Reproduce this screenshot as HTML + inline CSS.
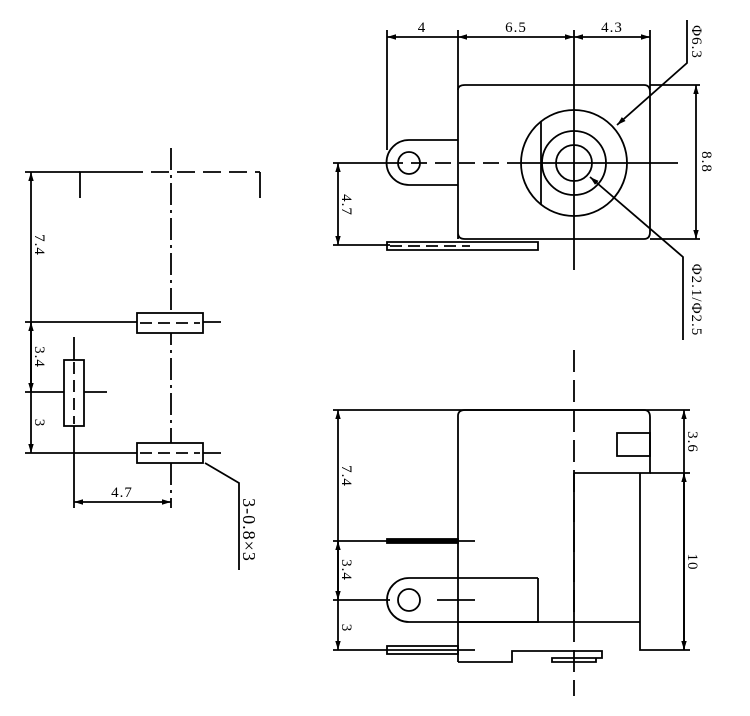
<!DOCTYPE html>
<html><head><meta charset="utf-8"><style>body{margin:0;background:#fff}svg{display:block}</style></head><body>
<svg width="750" height="716" viewBox="0 0 750 716" xmlns="http://www.w3.org/2000/svg" font-family="Liberation Serif, serif" font-size="15" letter-spacing="1" fill="none" stroke="#000" stroke-width="1.8">
<defs><marker id="a" viewBox="0 0 10 10" refX="10" refY="5" markerWidth="5" markerHeight="5" orient="auto-start-reverse"><path d="M0,2 L10,5 L0,8z" fill="#000" stroke="none"/></marker></defs>
<!-- LEFT VIEW -->
<line x1="25" y1="172" x2="80" y2="172"/>
<path d="M80,198 V172 H125"/><path d="M125,172 H260" stroke-dasharray="18,8"/><path d="M260,172 V198"/>
<line x1="171" y1="148" x2="171" y2="508" stroke-dasharray="22,5,3,5"/>
<line x1="31" y1="172" x2="31" y2="453" marker-start="url(#a)" marker-end="url(#a)"/>
<line x1="31" y1="322" x2="31" y2="392" marker-start="url(#a)" marker-end="url(#a)"/>
<line x1="25" y1="322" x2="221" y2="322"/><line x1="25" y1="392" x2="107" y2="392"/><line x1="25" y1="453" x2="221" y2="453"/>
<rect x="137" y="313" width="66" height="20" fill="#fff"/><line x1="140" y1="323" x2="200" y2="323" stroke-dasharray="12,6"/>
<rect x="137" y="443" width="66" height="20" fill="#fff"/><line x1="140" y1="453" x2="200" y2="453" stroke-dasharray="12,6"/>
<line x1="74" y1="337" x2="74" y2="508"/>
<rect x="64" y="360" width="20" height="66" fill="#fff"/><line x1="74" y1="362" x2="74" y2="424" stroke-dasharray="12,6"/>
<line x1="74" y1="502" x2="171" y2="502" marker-start="url(#a)" marker-end="url(#a)"/>
<path d="M205,463 L239,483 V570"/>
<g fill="#000" stroke="none">
<text x="122" y="497" text-anchor="middle">4.7</text>
<text transform="translate(35,245) rotate(90)" text-anchor="middle">7.4</text>
<text transform="translate(35,357) rotate(90)" text-anchor="middle">3.4</text>
<text transform="translate(35,423) rotate(90)" text-anchor="middle">3</text>
<text transform="translate(243,530) rotate(90)" text-anchor="middle" font-size="18">3-0.8×3</text>
</g>
<!-- TOP VIEW -->
<line x1="387" y1="30" x2="387" y2="150"/><line x1="458" y1="30" x2="458" y2="90"/><line x1="650" y1="30" x2="650" y2="90"/>
<line x1="574" y1="30" x2="574" y2="270"/>
<line x1="458" y1="37" x2="387" y2="37" marker-end="url(#a)"/>
<line x1="458" y1="37" x2="574" y2="37" marker-start="url(#a)" marker-end="url(#a)"/>
<line x1="574" y1="37" x2="650" y2="37" marker-start="url(#a)" marker-end="url(#a)"/>
<path d="M458,239 V90 Q458,85 465,85 H644 Q650,85 650,92 V232 Q650,239 644,239 H465 Q458,239 458,233"/>
<line x1="650" y1="85" x2="700" y2="85"/><line x1="650" y1="239" x2="700" y2="239"/>
<line x1="696" y1="85" x2="696" y2="239" marker-start="url(#a)" marker-end="url(#a)"/>
<path d="M458,140 H409 A22,22 0 0 0 409,185 H458"/>
<circle cx="409" cy="163" r="11"/>
<line x1="333" y1="163" x2="387" y2="163"/><line x1="387" y1="163" x2="520" y2="163" stroke-dasharray="16,8"/><line x1="520" y1="163" x2="678" y2="163"/>
<circle cx="574" cy="163" r="53"/><circle cx="574" cy="163" r="32"/><circle cx="574" cy="163" r="18"/>
<line x1="541" y1="122" x2="541" y2="205"/>
<line x1="338" y1="163" x2="338" y2="245" marker-start="url(#a)" marker-end="url(#a)"/>
<line x1="333" y1="245" x2="390" y2="245"/>
<path d="M387,242 H538 V250 H387z"/><line x1="390" y1="246" x2="470" y2="246" stroke-dasharray="12,6"/>
<path d="M617,125 L687,63 V20" marker-start="url(#a)"/>
<path d="M590,177 L683,257 V340" marker-start="url(#a)"/>
<g fill="#000" stroke="none">
<text x="422" y="32" text-anchor="middle">4</text>
<text x="516" y="32" text-anchor="middle">6.5</text>
<text x="612" y="32" text-anchor="middle">4.3</text>
<text transform="translate(702,162) rotate(90)" text-anchor="middle">8.8</text>
<text transform="translate(342,205) rotate(90)" text-anchor="middle">4.7</text>
<text transform="translate(692,42) rotate(90)" text-anchor="middle">Φ6.3</text>
<text transform="translate(692,300) rotate(90)" text-anchor="middle">Φ2.1/Φ2.5</text>
</g>
<!-- BOTTOM VIEW -->
<line x1="574" y1="350" x2="574" y2="696" stroke-dasharray="22,8"/>
<line x1="333" y1="410" x2="690" y2="410"/>
<path d="M458,662 V416 Q458,410 465,410 H644 Q650,410 650,417 V473 H574"/>
<rect x="617" y="433" width="33" height="23"/>
<path d="M640,473 V650 H690"/><line x1="650" y1="473" x2="690" y2="473"/>
<line x1="574" y1="473" x2="574" y2="622"/>
<line x1="458" y1="622" x2="640" y2="622"/>
<path d="M458,578 H409 A22,22 0 0 0 409,622 H538 V578"/>
<line x1="458" y1="578" x2="538" y2="578"/>
<circle cx="409" cy="600" r="11"/>
<line x1="333" y1="600" x2="390" y2="600"/><line x1="437" y1="600" x2="475" y2="600"/>
<line x1="333" y1="541" x2="475" y2="541"/><rect x="387" y="539" width="71" height="4" fill="#000"/>
<line x1="333" y1="650" x2="475" y2="650"/><rect x="387" y="646" width="71" height="8"/>
<path d="M458,662 H512 V651 H602 V658 H552 V662 H596 V658"/>
<line x1="338" y1="410" x2="338" y2="650" marker-start="url(#a)" marker-end="url(#a)"/>
<line x1="338" y1="541" x2="338" y2="600" marker-start="url(#a)" marker-end="url(#a)"/>
<line x1="684" y1="410" x2="684" y2="650" marker-start="url(#a)" marker-end="url(#a)"/>
<line x1="684" y1="473" x2="684" y2="650" marker-start="url(#a)"/>
<g fill="#000" stroke="none">
<text transform="translate(342,476) rotate(90)" text-anchor="middle">7.4</text>
<text transform="translate(342,570) rotate(90)" text-anchor="middle">3.4</text>
<text transform="translate(342,628) rotate(90)" text-anchor="middle">3</text>
<text transform="translate(688,442) rotate(90)" text-anchor="middle">3.6</text>
<text transform="translate(688,562) rotate(90)" text-anchor="middle">10</text>
</g>
</svg>
</body></html>
